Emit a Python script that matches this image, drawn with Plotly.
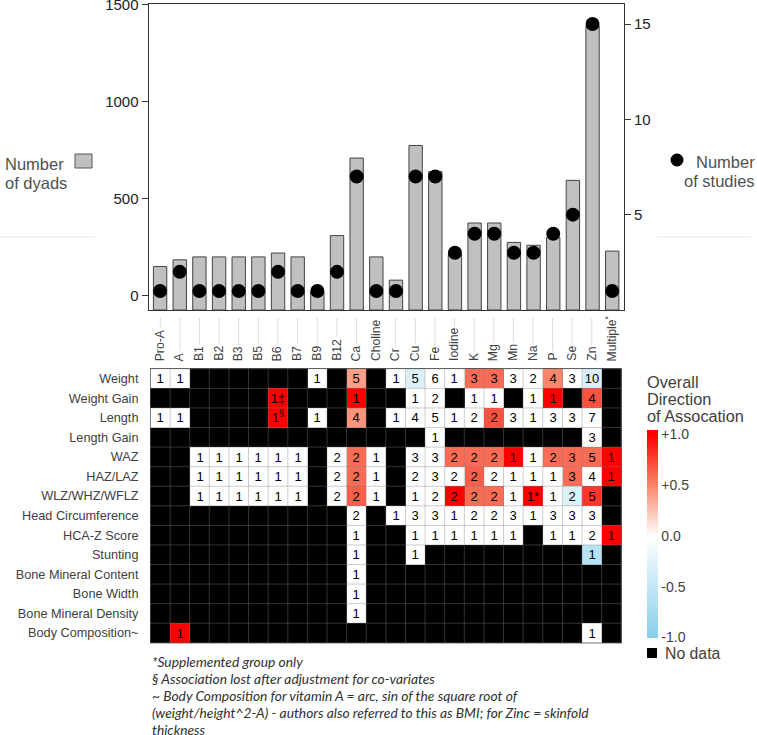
import plotly.graph_objects as go

W, H = 757, 735

NUTRIENTS = ["Pro-A", "A", "B1", "B2", "B3", "B5", "B6", "B7", "B9", "B12", "Ca",
             "Choline", "Cr", "Cu", "Fe", "Iodine", "K", "Mg", "Mn", "Na", "P",
             "Se", "Zn", "Multiple*"]
DYADS = [150, 185, 200, 200, 200, 200, 220, 200, 20, 310, 710, 200, 80, 775, 640,
         210, 375, 375, 275, 260, 300, 595, 1390, 230]
STUDIES = [1, 2, 1, 1, 1, 1, 2, 1, 1, 2, 7, 1, 1, 7, 7, 3, 4, 4, 3, 3, 4, 5, 15, 1]

OUTCOMES = ["Weight", "Weight Gain", "Length", "Length Gain", "WAZ", "HAZ/LAZ",
            "WLZ/WHZ/WFLZ", "Head Circumference", "HCA-Z Score", "Stunting",
            "Bone Mineral Content", "Bone Width", "Bone Mineral Density",
            "Body Composition~"]

_ = None
# number of studies per cell (None = no data)
COUNTS = [
    ["1", "1", _, _, _, _, _, _, "1", _, "5", _, "1", "5", "6", "1", "3", "3", "3", "2", "4", "3", "10", _],
    [_, _, _, _, _, _, "1‡", _, _, _, "1", _, _, "1", "2", _, "1", "1", _, "1", "1", _, "4", _],
    ["1", "1", _, _, _, _, "1<sup>§</sup>", _, "1", _, "4", _, "1", "4", "5", "1", "2", "2", "3", "1", "3", "3", "7", _],
    [_, _, _, _, _, _, _, _, _, _, _, _, _, _, "1", _, _, _, _, _, _, _, "3", _],
    [_, _, "1", "1", "1", "1", "1", "1", _, "2", "2", "1", _, "3", "3", "2", "2", "2", "1", "1", "2", "3", "5", "1"],
    [_, _, "1", "1", "1", "1", "1", "1", _, "2", "2", "1", _, "2", "3", "2", "2", "2", "1", "1", "1", "3", "4", "1"],
    [_, _, "1", "1", "1", "1", "1", "1", _, "2", "2", "1", _, "1", "2", "2", "2", "2", "1", "1*", "1", "2", "5", _],
    [_, _, _, _, _, _, _, _, _, _, "2", _, "1", "3", "3", "1", "2", "2", "3", "1", "3", "3", "3", _],
    [_, _, _, _, _, _, _, _, _, _, "1", _, _, "1", "1", "1", "1", "1", "1", _, "1", "1", "2", "1"],
    [_, _, _, _, _, _, _, _, _, _, "1", _, _, "1", _, _, _, _, _, _, _, _, "1", _],
    [_, _, _, _, _, _, _, _, _, _, "1", _, _, _, _, _, _, _, _, _, _, _, _, _],
    [_, _, _, _, _, _, _, _, _, _, "1", _, _, _, _, _, _, _, _, _, _, _, _, _],
    [_, _, _, _, _, _, _, _, _, _, "1", _, _, _, _, _, _, _, _, _, _, _, _, _],
    [_, "1", _, _, _, _, _, _, _, _, _, _, _, _, _, _, _, _, _, _, _, _, "1", _],
]
# overall direction of association (-1 .. +1)
DIRECTION = [
    [0, 0, _, _, _, _, _, _, 0, _, 0.4, _, 0, -0.3, 0, 0, 0.6, 0.6, 0, 0, 0.5, 0, -0.3, _],
    [_, _, _, _, _, _, 1, _, _, _, 1, _, _, 0, 0, _, 0, 0, _, 0, 1, _, 0.7, _],
    [0, 0, _, _, _, _, 1, _, 0, _, 0.45, _, 0, 0, 0, 0, 0, 0.7, 0, 0, 0, 0, 0, _],
    [_, _, _, _, _, _, _, _, _, _, _, _, _, _, 0, _, _, _, _, _, _, _, 0, _],
    [_, _, 0, 0, 0, 0, 0, 0, _, 0, 0.6, 0, _, 0, 0, 0.6, 0.6, 0.6, 1, 0, 0.6, 0.6, 0.6, 1],
    [_, _, 0, 0, 0, 0, 0, 0, _, 0, 0.6, 0, _, 0, 0, 0, 0.65, 0, 0, 0, 0, 0.6, 0, 1],
    [_, _, 0, 0, 0, 0, 0, 0, _, 0, 0.65, 0, _, 0, 0, 1, 0.6, 0.6, 0, 1, 0, -0.3, 0.8, _],
    [_, _, _, _, _, _, _, _, _, _, 0, _, 0, 0, 0, 0, 0, 0, 0, 0, 0, 0, 0, _],
    [_, _, _, _, _, _, _, _, _, _, 0, _, _, 0, 0, 0, 0, 0, 0, _, 0, 0, 0, 1],
    [_, _, _, _, _, _, _, _, _, _, 0, _, _, 0, _, _, _, _, _, _, _, _, -0.6, _],
    [_, _, _, _, _, _, _, _, _, _, 0, _, _, _, _, _, _, _, _, _, _, _, _, _],
    [_, _, _, _, _, _, _, _, _, _, 0, _, _, _, _, _, _, _, _, _, _, _, _, _],
    [_, _, _, _, _, _, _, _, _, _, 0, _, _, _, _, _, _, _, _, _, _, _, _, _],
    [_, 1, _, _, _, _, _, _, _, _, _, _, _, _, _, _, _, _, _, _, _, _, 0, _],
]
CB_TICKS = [-1, -0.5, 0, 0.5, 1]
CB_LABELS = ["-1.0", "-0.5", "0.0", "+0.5", "+1.0"]

FOOTNOTES = [
    "*Supplemented group only",
    "§ Association lost after adjustment for co-variates",
    "~ Body Composition for vitamin A = arc, sin of the square root of",
    "(weight/height^2-A) - authors also referred to this as BMI; for Zinc = skinfold",
    "thickness",
]

FONT = "Liberation Sans"
GREY_TXT = "#404040"
DYAD_FLOOR = -74  # bottom of the left axis, bars are drawn up from the frame
Z_MIN, Z_MAX = -1, 1.05  # a little head-room above +1 on the colour bar


def px(x):
    return x / W


def py(y):
    return 1 - y / H


def zpos(v):
    return (v - Z_MIN) / (Z_MAX - Z_MIN)


def note(x, y, text, size, anchor="left", color=GREY_TXT, family=FONT):
    return dict(x=px(x), y=py(y), xref="paper", yref="paper", xanchor=anchor,
                yanchor="middle", showarrow=False, text=text,
                font=dict(family=family, size=size, color=color))


fig = go.Figure()

fig.add_trace(go.Bar(
    x=NUTRIENTS, y=[d - DYAD_FLOOR for d in DYADS], base=DYAD_FLOOR,
    width=0.68, marker=dict(color="#c0c0c0", line=dict(color="#444444", width=1)),
    xaxis="x", yaxis="y", showlegend=False,
))
fig.add_trace(go.Scatter(
    x=NUTRIENTS, y=STUDIES, mode="markers",
    marker=dict(color="black", size=14), xaxis="x", yaxis="y2", showlegend=False,
))

fig.add_trace(go.Heatmap(
    x=NUTRIENTS, y=OUTCOMES, z=DIRECTION, text=[[c or " " for c in r] for r in COUNTS],
    texttemplate="%{text}", textfont=dict(family=FONT, size=13, color="black"),
    zmin=Z_MIN, zmax=Z_MAX,
    colorscale=[[0, "#87ceeb"], [zpos(0), "#ffffff"], [zpos(0.5), "#f8876c"],
                [zpos(1), "#ff0000"], [1, "#ff0000"]],
    xaxis="x2", yaxis="y3",
    colorbar=dict(
        x=px(647), xanchor="left", xpad=0, y=py(533.5), yanchor="middle", ypad=0,
        thickness=11, lenmode="pixels", len=208, outlinewidth=0,
        tickvals=CB_TICKS, ticktext=CB_LABELS, ticks="",
        tickfont=dict(family=FONT, size=14, color=GREY_TXT),
    ),
))

shapes = []
# black background = "no data"
shapes.append(dict(type="rect", xref="x2 domain", yref="y3 domain", x0=0, x1=1, y0=0, y1=1,
                   fillcolor="black", line=dict(width=0), layer="below"))
# cell grid
for i in range(len(NUTRIENTS) + 1):
    shapes.append(dict(type="line", xref="x2", yref="y3 domain", x0=i - 0.5, x1=i - 0.5,
                       y0=0, y1=1, line=dict(color="rgba(128,128,128,0.4)", width=1)))
for j in range(len(OUTCOMES) + 1):
    shapes.append(dict(type="line", xref="x2 domain", yref="y3", x0=0, x1=1,
                       y0=j - 0.5, y1=j - 0.5, line=dict(color="rgba(128,128,128,0.4)", width=1)))
# guide lines above the column labels
for n in NUTRIENTS:
    shapes.append(dict(type="line", xref="x2", yref="paper", x0=n, x1=n,
                       y0=py(318), y1=py(362), line=dict(color="#dcdcdc", width=1)))
# legend swatches
shapes.append(dict(type="rect", xref="paper", yref="paper", x0=px(75), x1=px(92),
                   y0=py(154), y1=py(168), fillcolor="#c0c0c0", line=dict(color="#555", width=1)))
shapes.append(dict(type="circle", xref="paper", yref="paper", x0=px(670.5), x1=px(683.5),
                   y0=py(153.5), y1=py(166.5), fillcolor="black", line=dict(width=0)))
shapes.append(dict(type="line", xref="paper", yref="paper", x0=0, x1=px(95),
                   y0=py(237), y1=py(237), line=dict(color="#e8e8e8", width=1)))
shapes.append(dict(type="line", xref="paper", yref="paper", x0=px(657), x1=px(751),
                   y0=py(237), y1=py(237), line=dict(color="#e8e8e8", width=1)))
shapes.append(dict(type="rect", xref="paper", yref="paper", x0=px(647), x1=px(657),
                   y0=py(648), y1=py(658), fillcolor="black", line=dict(width=0)))

annotations = []
for n in NUTRIENTS:
    annotations.append(dict(
        x=n, xref="x2", y=py(363), yref="paper", text=n.replace("*", "<sup>*</sup>"),
        showarrow=False, textangle=-90, xanchor="center", yanchor="bottom",
        bgcolor="white", borderpad=1, font=dict(family=FONT, size=12.2, color=GREY_TXT),
    ))
annotations += [
    note(3, 164, "Number", 16.5, color="#505050"),
    note(3, 183, "of dyads", 16.5, color="#505050"),
    note(757, 162, "Number", 16.5, anchor="right", color="#505050"),
    note(757, 181, "of studies", 16.5, anchor="right", color="#505050"),
    note(645, 382, "Overall", 16.3),
    note(645, 399, "Direction", 16.3),
    note(645, 416, "of Assocation", 16.3),
    note(663, 653, "No data", 15.8),
]
for line, y in zip(FOOTNOTES, [661.5, 678.5, 695.7, 712.7, 729.5]):
    annotations.append(note(150, y, f"<i>{line}</i>", 13.8, color="#303030", family="Lato"))

fig.update_layout(
    width=W, height=H, autosize=False,
    margin=dict(l=0, r=0, t=0, b=0, autoexpand=False),
    paper_bgcolor="white", plot_bgcolor="white", showlegend=False,
    font=dict(family=FONT, color="#222"),
    xaxis=dict(domain=[px(148.5), px(624)], type="category", categoryorder="array",
               categoryarray=NUTRIENTS, range=[-0.59, 23.6], showticklabels=False,
               ticks="", showgrid=False, showline=True, mirror=True,
               linecolor="#333", linewidth=1, anchor="y"),
    yaxis=dict(domain=[py(310), py(4)], range=[DYAD_FLOOR, 1505], tickvals=[0, 500, 1000, 1500],
               ticks="outside", ticklen=6, tickcolor="#333", showgrid=False, zeroline=False,
               showline=True, mirror=True, linecolor="#333", linewidth=1,
               ticklabeloverflow="allow",
               tickfont=dict(size=15, color="#222"), anchor="x"),
    yaxis2=dict(overlaying="y", side="right", range=[0, 16.05], tickvals=[5, 10, 15],
                ticks="outside", ticklen=6, tickcolor="#333", showgrid=False, zeroline=False,
                tickfont=dict(size=15, color="#222"), anchor="x"),
    xaxis2=dict(domain=[px(150), px(621.7)], type="category", categoryorder="array",
                categoryarray=NUTRIENTS, showticklabels=False, ticks="", showgrid=False,
                zeroline=False, anchor="y3"),
    yaxis3=dict(domain=[py(643.3), py(368.3)], type="category", categoryorder="array",
                categoryarray=OUTCOMES, autorange="reversed", showgrid=False, zeroline=False,
                ticks="outside", ticklen=8, tickcolor="rgba(0,0,0,0)",
                tickfont=dict(size=12.7, color=GREY_TXT), anchor="x2"),
    shapes=shapes,
    annotations=annotations,
)

# the page's default body margin would push the fixed-size figure off its spot
fig.write_html("out.html", config={"displayModeBar": False, "responsive": False},
               post_script="document.body.style.margin='0';")
